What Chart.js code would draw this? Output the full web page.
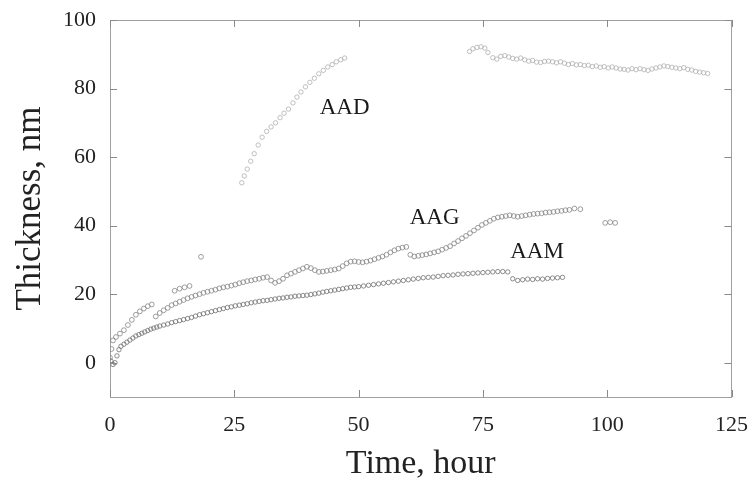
<!DOCTYPE html>
<html>
<head>
<meta charset="utf-8">
<script src="https://cdn.jsdelivr.net/npm/chart.js@4"></script>
<style>
  html, body { margin: 0; padding: 0; background: #fff; }
  #wrap { width: 755px; height: 488px; }
</style>
</head>
<body>
<div id="wrap"><canvas id="thickChart"></canvas></div>
<script>
// Film thickness vs time
const yTicks = [0, 20, 40, 60, 80, 100];

const aadT = [26.5,27.0,27.6,28.3,29.0,29.8,30.6,31.5,32.4,33.3,34.2,35.0,35.9,36.8,37.6,38.4,39.3,40.2,41.1,42.0,42.9,43.8,44.7,45.5,46.4,47.2,
  72.3,73.0,73.8,74.6,75.4,76.0,77.0,77.8,78.6,79.4,80.2,81.0,81.8,82.6,83.4,84.2,85.0,85.8,86.6,87.4,88.2,89.0,89.8,90.6,91.4,92.2,93.0,93.8,94.6,95.4,96.2,97.0,97.8,98.6,99.4,100.2,101.0,101.8,102.6,103.4,104.2,105.0,105.8,106.6,107.4,108.2,109.0,109.8,110.6,111.4,112.2,113.0,113.8,114.6,115.4,116.2,117.0,117.8,118.6,119.4,120.2];
const aadV = [52.5,54.5,56.5,58.8,61.0,63.5,65.8,67.5,68.8,70.0,71.5,72.8,74.0,75.8,77.5,79.0,80.5,81.8,83.0,84.3,85.3,86.3,87.0,87.8,88.4,88.9,
  90.8,91.6,92.0,92.2,91.8,90.5,89.0,88.6,89.4,89.6,89.2,88.8,88.6,88.9,88.4,88.0,88.2,87.7,87.6,87.9,88.0,87.8,87.5,87.8,87.4,87.0,87.3,86.9,87.0,86.7,86.8,86.4,86.6,86.2,86.4,86.0,86.3,86.0,85.7,85.6,85.4,85.8,85.5,85.8,85.5,85.3,85.7,86.0,86.3,86.6,86.4,86.2,86.0,85.8,86.1,85.6,85.4,85.0,84.8,84.6,84.4];

const aagT = [0.0,0.3,0.6,1.2,2.0,2.8,3.6,4.4,5.2,6.0,6.8,7.6,8.4,9.2,10.0,10.8,11.6,12.4,13.2,14.0,14.8,15.6,16.4,17.2,18.0,18.8,19.6,20.4,21.2,22.0,22.8,23.6,24.4,25.2,26.0,26.8,27.6,28.4,29.2,30.0,30.8,31.6,32.4,33.2,34.0,34.8,35.6,36.4,37.2,38.0,38.8,39.6,40.4,41.2,42.0,42.8,43.6,44.4,45.2,46.0,46.8,47.6,48.4,49.2,50.0,50.8,51.6,52.4,53.2,54.0,54.8,55.6,56.4,57.2,58.0,58.8,59.6,
  60.4,61.2,62.0,62.8,63.6,64.4,65.2,66.0,66.8,67.6,68.4,69.2,70.0,70.8,71.6,72.4,73.2,74.0,74.8,75.6,76.4,77.2,78.0,78.8,79.6,80.4,81.2,82.0,82.8,83.6,84.4,85.2,86.0,86.8,87.6,88.4,89.2,90.0,90.8,91.6,92.4,93.4,94.6,99.6,100.6,101.6,
  13.0,14.0,15.0,16.0,18.3];
const aagV = [1.5,4.0,6.5,7.5,8.5,9.5,11.0,12.5,14.0,15.0,15.8,16.5,17.0,13.5,14.5,15.3,16.0,16.8,17.3,17.8,18.3,18.8,19.2,19.6,20.0,20.4,20.7,21.0,21.3,21.7,22.0,22.2,22.5,22.8,23.2,23.5,23.8,24.0,24.3,24.5,24.8,25.0,24.0,23.3,23.8,24.5,25.5,26.0,26.5,27.0,27.5,28.0,27.6,27.0,26.5,26.6,26.8,27.0,27.2,27.5,28.2,29.0,29.5,29.6,29.4,29.3,29.5,29.8,30.2,30.6,31.0,31.5,32.2,32.8,33.3,33.6,33.8,
  31.5,31.0,31.2,31.4,31.6,31.9,32.2,32.5,33.0,33.5,34.0,34.8,35.5,36.3,37.0,37.8,38.6,39.4,40.2,40.8,41.4,42.0,42.4,42.6,42.8,43.0,42.8,42.6,42.8,43.0,43.2,43.4,43.5,43.6,43.8,43.9,44.0,44.2,44.3,44.5,44.6,45.0,44.8,40.8,41.0,40.8,
  21.0,21.6,22.0,22.4,30.9];

const aamT = [0.2,0.6,1.0,1.4,1.8,2.2,2.8,3.4,4.0,4.6,5.2,5.8,6.4,7.0,7.6,8.2,8.8,9.4,10.0,10.8,11.6,12.4,13.2,14.0,14.8,15.6,16.4,17.2,18.0,18.8,19.6,20.4,21.2,22.0,22.8,23.6,24.4,25.2,26.0,26.8,27.6,28.4,29.2,30.0,30.8,31.6,32.4,33.2,34.0,34.8,35.6,36.4,37.2,38.0,38.8,39.6,40.4,41.2,42.0,42.8,43.6,44.4,45.2,46.0,46.8,47.6,48.4,49.2,
  50.0,51.0,52.0,53.0,54.0,55.0,56.0,57.0,58.0,59.0,60.0,61.0,62.0,63.0,64.0,65.0,66.0,67.0,68.0,69.0,70.0,71.0,72.0,73.0,74.0,75.0,76.0,77.0,78.0,79.0,80.0,81.0,82.0,83.0,84.0,85.0,86.0,87.0,88.0,89.0,90.0,91.0];
const aamV = [0.5,-0.5,0.0,2.0,3.8,4.8,5.4,6.0,6.6,7.2,7.8,8.2,8.6,9.0,9.4,9.8,10.1,10.4,10.7,11.0,11.3,11.7,12.0,12.3,12.6,12.9,13.2,13.6,14.0,14.3,14.6,14.9,15.2,15.5,15.8,16.1,16.3,16.6,16.8,17.0,17.2,17.5,17.7,17.9,18.1,18.2,18.4,18.6,18.8,18.9,19.1,19.2,19.4,19.5,19.6,19.7,19.9,20.1,20.3,20.6,20.8,21.0,21.2,21.4,21.6,21.8,22.0,22.1,
  22.2,22.4,22.6,22.8,23.0,23.2,23.4,23.6,23.8,24.0,24.2,24.4,24.6,24.8,24.9,25.0,25.2,25.4,25.5,25.6,25.8,25.9,26.0,26.1,26.2,26.3,26.4,26.5,26.6,26.6,26.5,24.5,24.0,24.2,24.4,24.3,24.5,24.4,24.6,24.7,24.8,24.9];

// series names written next to the curves (anchor in data units)
const seriesNames = ["AAD", "AAG", "AAM"];
const nameT = [47.2, 65.3, 85.9];
const nameV = [74.3, 42.3, 32.4];

const toPts = (t, v) => t.map((x, i) => ({x: x, y: v[i]}));
const serif = "'Liberation Serif', 'Times New Roman', serif";

const frame = {display: true, color: '#a0a0a0', width: 1, dash: [34, 6, 3, 6]};

// short ticks pointing into the plot, and the curve names
const extras = {
  id: 'extras',
  afterDatasetsDraw(chart) {
    const ctx = chart.ctx, a = chart.chartArea;
    const s = chart.scales;
    ctx.save();
    ctx.strokeStyle = '#8a8a8a';
    ctx.lineWidth = 1;
    ctx.beginPath();
    s.x.ticks.forEach(t => {
      const px = Math.round(s.x.getPixelForValue(t.value)) + 0.5;
      ctx.moveTo(px, a.bottom); ctx.lineTo(px, a.bottom - 7);
      ctx.moveTo(px, a.top); ctx.lineTo(px, a.top + 7);
    });
    s.y.ticks.forEach(t => {
      const py = Math.round(s.y.getPixelForValue(t.value)) + 0.5;
      ctx.moveTo(a.left, py); ctx.lineTo(a.left + 7, py);
      ctx.moveTo(a.right, py); ctx.lineTo(a.right - 7, py);
    });
    ctx.stroke();

    ctx.fillStyle = '#1a1a1a';
    ctx.font = '23px ' + serif;
    ctx.textAlign = 'center';
    ctx.textBaseline = 'middle';
    seriesNames.forEach((n, i) => {
      ctx.fillText(n, s.x.getPixelForValue(nameT[i]), s.y.getPixelForValue(nameV[i]));
    });
    ctx.restore();
  }
};

new Chart("thickChart", {
  type: "scatter",
  data: {
    datasets: [{
      label: "AAD",
      data: toPts(aadT, aadV),
      pointStyle: 'circle',
      pointRadius: 2.2,
      borderColor: '#b0b0b0',
      borderWidth: 0.8,
      backgroundColor: 'rgba(0,0,0,0)'
    }, {
      label: "AAG",
      data: toPts(aagT, aagV),
      pointStyle: 'circle',
      pointRadius: 2.4,
      borderColor: '#858585',
      borderWidth: 0.8,
      backgroundColor: 'rgba(0,0,0,0)'
    }, {
      label: "AAM",
      data: toPts(aamT, aamV),
      pointStyle: 'circle',
      pointRadius: 2.2,
      borderColor: '#707070',
      borderWidth: 0.8,
      backgroundColor: 'rgba(0,0,0,0)'
    }]
  },
  options: {
    responsive: true,
    maintainAspectRatio: false,
    animation: false,
    layout: {padding: {left: 0, right: 2, top: 20, bottom: 0}},
    plugins: {
      legend: {display: false},
      tooltip: {enabled: false}
    },
    scales: {
      x: {
        type: 'linear', position: 'bottom', min: 0, max: 125,
        ticks: {stepSize: 25, color: '#222', font: {family: serif, size: 22}, padding: 7},
        grid: {display: false},
        border: frame,
        title: {display: true, text: 'Time, hour', color: '#222', font: {family: serif, size: 34}, padding: {top: 0, bottom: 4}},
        afterFit: (sc) => { sc.height = 91; }
      },
      x2: {
        type: 'linear', position: 'top', min: 0, max: 125,
        ticks: {display: false, stepSize: 25},
        grid: {display: false},
        border: frame,
        afterFit: (sc) => { sc.height = 0; }
      },
      y: {
        type: 'linear', position: 'left', min: -10, max: 100,
        afterBuildTicks: (sc) => { sc.ticks = yTicks.map(v => ({value: v})); },
        ticks: {color: '#222', font: {family: serif, size: 22}, padding: 6},
        grid: {display: false},
        border: frame,
        title: {display: true, text: 'Thickness, nm', color: '#222', font: {family: serif, size: 35}, padding: {top: 10, bottom: 0}},
        afterFit: (sc) => { sc.width = 110; }
      },
      y2: {
        type: 'linear', position: 'right', min: -10, max: 100,
        afterBuildTicks: (sc) => { sc.ticks = yTicks.map(v => ({value: v})); },
        ticks: {display: false},
        grid: {display: false},
        border: frame,
        afterFit: (sc) => { sc.width = 0; }
      }
    }
  },
  plugins: [extras]
});
</script>
</body>
</html>
